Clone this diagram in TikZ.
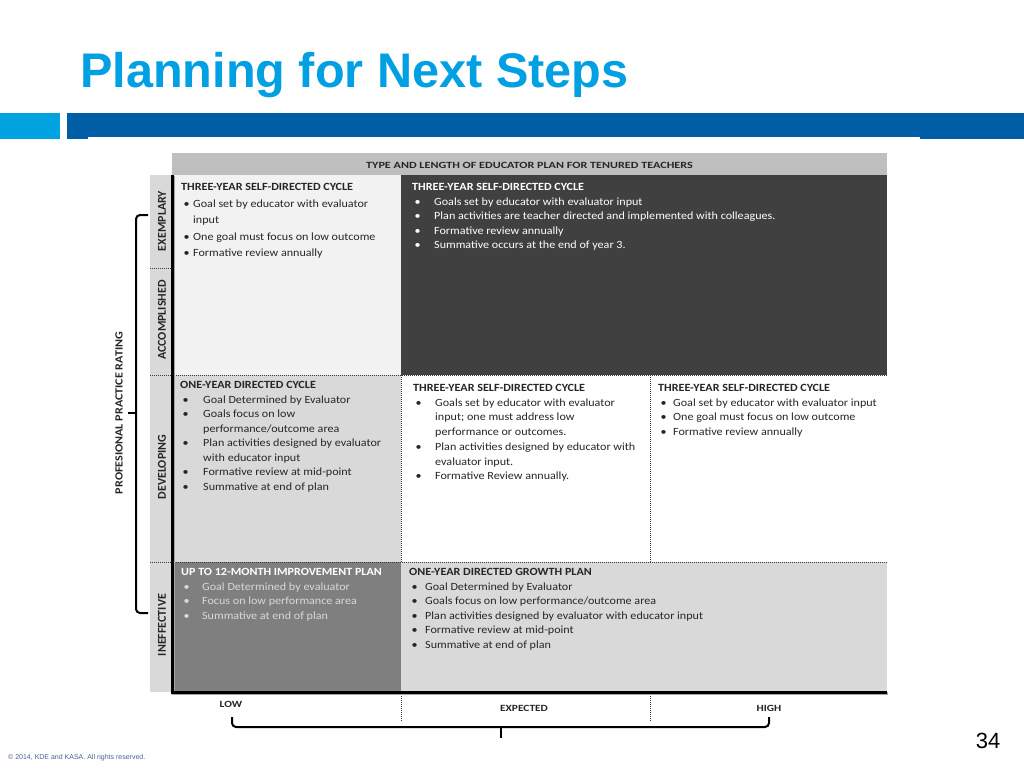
\documentclass[tikz,border=0pt]{standalone}
\usepackage{fontspec}
\setmainfont{Carlito}
\newfontfamily\arialf{Liberation Sans}
\newfontfamily\cellf[FakeStretch=1.1]{Carlito}
\newfontfamily\hdrf[FakeStretch=1.28]{Carlito}
\newfontfamily\axf[FakeStretch=1.2]{Carlito}
\definecolor{ttl}{RGB}{0,160,226}
\definecolor{lblue}{RGB}{0,163,224}
\definecolor{dblue}{RGB}{0,94,166}
\definecolor{hdr}{RGB}{191,191,191}
\definecolor{lgray}{RGB}{217,217,217}
\definecolor{vlgray}{RGB}{242,242,242}
\definecolor{dkcell}{RGB}{64,64,64}
\definecolor{mdcell}{RGB}{127,127,127}
\definecolor{txt}{RGB}{38,38,38}
\definecolor{foot}{RGB}{70,100,150}
\definecolor{dotc}{RGB}{60,60,60}
\newcommand\bi[2]{\makebox[#1][l]{\hspace{2.5pt}•}#2}
\newcommand\ci[2]{\hspace*{#1}#2}
\begin{document}
\begin{tikzpicture}[x=1pt,y=-1pt,
  celltext/.style={anchor=base west,inner sep=0pt,text=txt,font=\cellf\fontsize{11}{14.5}\selectfont},
  toptext/.style={celltext,font=\cellf\fontsize{11}{16.5}\selectfont},
  ratelbl/.style={rotate=90,inner sep=0pt,text=txt,font=\bfseries\fontsize{12}{14}\selectfont},
  axlbl/.style={inner sep=0pt,text=txt,font=\axf\bfseries\fontsize{9.5}{11}\selectfont},
  dotline/.style={dotc,line width=1pt,dash pattern=on 1pt off 1pt},
  thick rule/.style={line width=3pt},
  bracket/.style={line width=2pt,rounded corners=4pt}]
\useasboundingbox (0,0) rectangle (1024,768);
\fill[white] (0,0) rectangle (1024,768);
% title and bars
\node[anchor=base west,inner sep=0pt,text=ttl,font=\arialf\bfseries\fontsize{48.6}{50}\selectfont] (title) at (80,87) {Planning for Next Steps};
\fill[lblue] (0,113) rectangle (60,139);
\fill[dblue] (67,113) rectangle (1024,139);
\fill[white] (88,137) rectangle (920,140);
% table backgrounds
\fill[hdr] (172,153) rectangle (887,175);
\fill[lgray] (150,175) rectangle (172,692);
\fill[vlgray] (172,175) rectangle (401,375);
\fill[dkcell] (401,175) rectangle (887,375);
\fill[lgray] (172,375) rectangle (401,562);
\fill[mdcell] (172,562) rectangle (401,692);
\fill[lgray] (401,562) rectangle (887,692);
% dotted separators
\draw[dotline] (150,268) -- (172,268);
\draw[dotline] (150,375) -- (887,375);
\draw[dotline] (150,562) -- (887,562);
\draw[dotline] (401,375) -- (401,562);
\draw[dotline] (650,375) -- (650,562);
\draw[dotline] (401,694) -- (401,722);
\draw[dotline] (650,694) -- (650,722);
% thick axes with shadow
\draw[thick rule,black!35] (173.5,176) -- (173.5,693.5) -- (888,693.5);
\draw[thick rule] (172,175) -- (172,692) -- (887,692);
% header
\node[inner sep=0pt,text=txt,font=\hdrf\bfseries\fontsize{9.5}{11}\selectfont] (hdrtxt) at (529.5,165) {TYPE AND LENGTH OF EDUCATOR PLAN FOR TENURED TEACHERS};
% rating labels
\node[ratelbl] (exm) at (162,221) {EXEMPLARY};
\node[ratelbl] (acc) at (162,320) {ACCOMPLISHED};
\node[ratelbl] (dev) at (162,467) {DEVELOPING};
\node[ratelbl] (ine) at (162,625) {INEFFECTIVE};
\node[ratelbl,font=\cellf\bfseries\fontsize{11}{13}\selectfont] (ppr) at (119,413) {PROFESIONAL PRACTICE RATING};
% axis labels
\node[axlbl] (low) at (231,704) {LOW};
\node[axlbl] (exp) at (524,708) {EXPECTED};
\node[axlbl] (high) at (769,708) {HIGH};
% brackets
\draw[bracket] (148,215) -- (136,215) -- (136,613) -- (148,613);
\draw[line width=2pt] (136,413) -- (128,413);
\draw[bracket] (232,717) -- (232,727) -- (769,727) -- (769,717);
\draw[line width=2pt] (501,727) -- (501,738);
% cell texts
\node[toptext] (c11) at (181,190.5) {\begin{tabular}[t]{@{}l@{}}
{\bfseries THREE-YEAR SELF-DIRECTED CYCLE}\\
\bi{12pt}{Goal set by educator with evaluator}\\
\ci{12pt}{input}\\
\bi{12pt}{One goal must focus on low outcome}\\
\bi{12pt}{Formative review annually}
\end{tabular}};
\node[celltext,text=white] (c12) at (412,190.5) {\begin{tabular}[t]{@{}l@{}}
{\bfseries THREE-YEAR SELF-DIRECTED CYCLE}\\
\bi{22pt}{Goals set by educator with evaluator input}\\
\bi{22pt}{Plan activities are teacher directed and implemented with colleagues.}\\
\bi{22pt}{Formative review annually}\\
\bi{22pt}{Summative occurs at the end of year 3.}
\end{tabular}};
\node[celltext] (c21) at (180,388.5) {\begin{tabular}[t]{@{}l@{}}
{\bfseries ONE-YEAR DIRECTED CYCLE}\\
\bi{23pt}{Goal Determined by Evaluator}\\
\bi{23pt}{Goals focus on low}\\
\ci{23pt}{performance/outcome area}\\
\bi{23pt}{Plan activities designed by evaluator}\\
\ci{23pt}{with educator input}\\
\bi{23pt}{Formative review at mid-point}\\
\bi{23pt}{Summative at end of plan}
\end{tabular}};
\node[celltext,font=\cellf\fontsize{11}{14.7}\selectfont] (c22) at (413,391.5) {\begin{tabular}[t]{@{}l@{}}
{\bfseries THREE-YEAR SELF-DIRECTED CYCLE}\\
\bi{22pt}{Goals set by educator with evaluator}\\
\ci{22pt}{input; one must address low}\\
\ci{22pt}{performance or outcomes.}\\
\bi{22pt}{Plan activities designed by educator with}\\
\ci{22pt}{evaluator input.}\\
\bi{22pt}{Formative Review annually.}
\end{tabular}};
\node[celltext,font=\cellf\fontsize{11}{14.7}\selectfont] (c23) at (658,391.5) {\begin{tabular}[t]{@{}l@{}}
{\bfseries THREE-YEAR SELF-DIRECTED CYCLE}\\
\bi{15pt}{Goal set by educator with evaluator input}\\
\bi{15pt}{One goal must focus on low outcome}\\
\bi{15pt}{Formative review annually}
\end{tabular}};
\node[celltext,text=black!15] (c31) at (181,575.5) {\begin{tabular}[t]{@{}l@{}}
{\bfseries\color{white} UP TO 12-MONTH IMPROVEMENT PLAN}\\
\bi{21pt}{Goal Determined by evaluator}\\
\bi{21pt}{Focus on low performance area}\\
\bi{21pt}{Summative at end of plan}
\end{tabular}};
\node[celltext] (c32) at (409,575.5) {\begin{tabular}[t]{@{}l@{}}
{\bfseries ONE-YEAR DIRECTED GROWTH PLAN}\\
\bi{16pt}{Goal Determined by Evaluator}\\
\bi{16pt}{Goals focus on low performance/outcome area}\\
\bi{16pt}{Plan activities designed by evaluator with educator input}\\
\bi{16pt}{Formative review at mid-point}\\
\bi{16pt}{Summative at end of plan}
\end{tabular}};
% footer
\node[anchor=base west,inner sep=0pt,text=foot,font=\arialf\fontsize{7}{8}\selectfont] (foot) at (8,759) {© 2014, KDE and KASA. All rights reserved.};
\node[anchor=base,inner sep=0pt,font=\arialf\fontsize{22}{24}\selectfont] (pnum) at (988,748) {34};
\end{tikzpicture}
\end{document}
